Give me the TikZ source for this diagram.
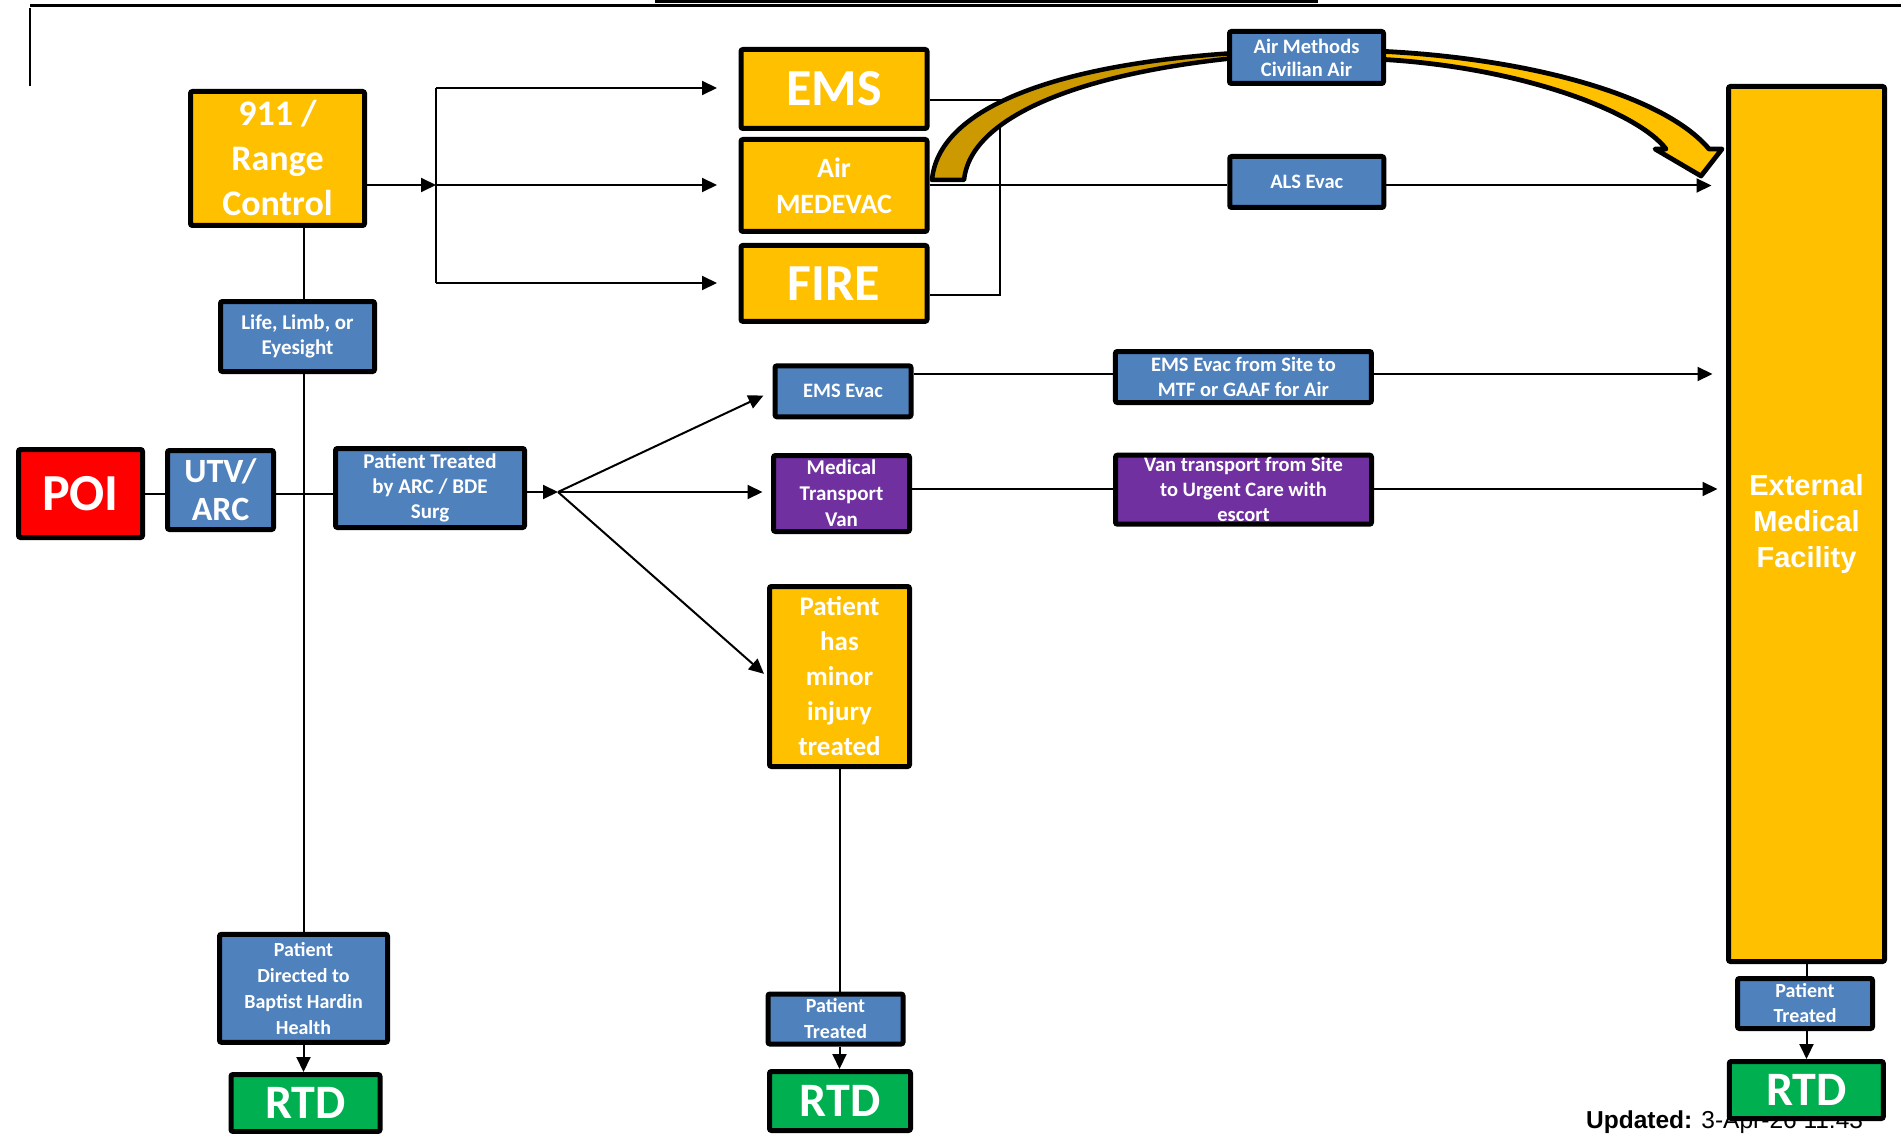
\documentclass[tikz,border=0pt]{standalone}
\usepackage{fontspec}
\setmainfont{Carlito}
\newfontfamily\libsans{Liberation Sans}
\usetikzlibrary{arrows.meta,calc}
\definecolor{yel}{HTML}{FFC000}
\definecolor{blu}{HTML}{4F81BD}
\definecolor{pur}{HTML}{7030A0}
\definecolor{redb}{HTML}{FF0000}
\definecolor{grn}{HTML}{00B050}
\definecolor{dgold}{HTML}{CC9A00}
\pgfdeclarelayer{bg}
\pgfsetlayers{bg,main}
\newcommand{\myfs}[2]{\fontsize{#1}{#2}\selectfont}
\begin{document}
\begin{tikzpicture}[x=1pt,y=-1pt,
  box/.style={draw=black,line width=5pt,rounded corners=2pt,text=white,align=center,inner sep=0pt},
  fs/.style 2 args={font=\bfseries\myfs{#1}{#2}},
  conn/.style={line width=2pt,draw=black},
  arr/.style={conn,-{Triangle[length=15pt,width=14pt]}}]
\useasboundingbox (0,0) rectangle (1901,1134);

% page decorations
\draw[line width=2.3pt] (30,5.5) -- (1901,5.5);
\fill (655,0) rectangle (1318,3);
\draw[line width=1.8pt] (30,8) -- (30,86);

% nodes
\node[box,fill=yel,minimum width=174pt,minimum height=134pt,fs={36}{45}] (n911) at (277.5,158.5) {911 /\\Range\\Control};
\node[box,fill=blu,minimum width=154pt,minimum height=70pt,fs={21}{25}] (life) at (297.5,336.5) {Life, Limb, or\\Eyesight};
\node[box,fill=redb,minimum width=124pt,minimum height=88pt,fs={52}{60}] (poi) at (80.5,493.5) {POI};
\node[box,fill=blu,minimum width=106pt,minimum height=79pt,fs={34}{38}] (utv) at (220.5,490) {UTV/\\ARC};
\node[box,fill=blu,minimum width=189pt,minimum height=79pt,fs={21}{25}] (pt) at (430,488) {Patient Treated\\by ARC / BDE\\Surg};
\node[box,fill=yel,minimum width=186pt,minimum height=79pt,fs={52}{60}] (ems) at (834,89) {EMS};
\node[box,fill=yel,minimum width=186pt,minimum height=92pt,fs={28}{36}] (medevac) at (834,185.5) {Air\\MEDEVAC};
\node[box,fill=yel,minimum width=186pt,minimum height=76pt,fs={52}{60}] (fire) at (834,283.4) {FIRE};
\node[box,fill=blu,minimum width=154pt,minimum height=52pt,fs={20.5}{23}] (airm) at (1306.5,57.5) {Air Methods\\Civilian Air};
\node[box,fill=blu,minimum width=154pt,minimum height=51pt,fs={20.5}{24}] (als) at (1306.75,182) {ALS Evac};
\node[box,fill=blu,minimum width=136pt,minimum height=51pt,fs={20.5}{24}] (emsevac) at (843,391.3) {EMS Evac};
\node[box,fill=pur,minimum width=136pt,minimum height=76pt,fs={21}{26}] (van) at (841.5,493.5) {Medical\\Transport\\Van};
\node[box,fill=yel,minimum width=140pt,minimum height=180pt,fs={27}{35}] (minor) at (839.5,676.5) {Patient\\has\\minor\\injury\\treated};
\node[box,fill=blu,minimum width=256pt,minimum height=51pt,fs={20.5}{25}] (emsfrom) at (1243.4,377) {EMS Evac from Site to\\MTF or GAAF for Air};
\node[box,fill=pur,minimum width=256pt,minimum height=69pt,fs={20.5}{25}] (vantr) at (1243.5,489.7) {Van transport from Site\\to Urgent Care with\\escort};
\node[box,fill=yel,minimum width=156pt,minimum height=875pt,font=\libsans\bfseries\myfs{29}{36}] (ext) at (1806.5,524) {External\\Medical\\Facility};
\node[box,fill=blu,minimum width=135pt,minimum height=50pt,fs={20}{25}] (ptr) at (1805,1003.5) {Patient\\Treated};
\node[anchor=base west,inner sep=0pt,text=black,font=\libsans\myfs{24.5}{28}] (upd) at (1586,1128) {\textbf{Updated:} 3-Apr-26 11:43};
\node[box,fill=grn,minimum width=154pt,minimum height=57pt,fs={48}{56}] (rtdr) at (1806.3,1090) {RTD};
\node[box,fill=blu,minimum width=168pt,minimum height=108pt,fs={20}{26}] (pd) at (303.5,988.3) {Patient\\Directed to\\Baptist Hardin\\Health};
\node[box,fill=grn,minimum width=149pt,minimum height=57pt,fs={48}{56}] (rtdl) at (305.5,1103) {RTD};
\node[box,fill=blu,minimum width=135pt,minimum height=50pt,fs={20}{26}] (ptm) at (835.5,1019) {Patient\\Treated};
\node[box,fill=grn,minimum width=141pt,minimum height=59pt,fs={48}{56}] (rtdm) at (840,1101) {RTD};

\begin{pgfonlayer}{bg}
% 911 bracket
\coordinate (bl) at (436,185);
\coordinate (blt) at (436,88);
\coordinate (blb) at (436,283);
\draw[arr] (n911.east |- bl) -- (bl);
\draw[conn] (blt) -- (blb);
\draw[arr,shorten >=21.5pt] (blt) -- (ems.west |- blt);
\draw[arr,shorten >=21.5pt] (bl) -- (medevac.west |- bl);
\draw[arr,shorten >=21.5pt] (blb) -- (fire.west |- blb);
% EMS/FIRE bracket
\coordinate (eb) at (1000,100);
\coordinate (ebb) at (1000,295);
\draw[conn] (ems.east |- eb) -- (eb) -- (ebb) -- (fire.east |- ebb);
% air
\draw[conn] (medevac.east) -- (als.west |- medevac.east);
\draw[arr,shorten >=14.5pt] (als.east |- medevac.east) -- (ext.west |- medevac.east);
% main vertical
\draw[conn] (n911.south -| pd.north) -- (pd.north);
\draw[arr] (pd.south) -- (pd.south |- rtdl.north);
% POI row
\coordinate (br) at (558,492);
\draw[conn] (poi.east) -- (utv.west |- poi.east);
\draw[conn] (utv.east |- poi.east) -- (pt.west |- poi.east);
\draw[arr] (pt.east |- br) -- (br);
\draw[arr,shorten >=10pt] (br) -- (emsevac.west);
\draw[arr,shorten >=8.5pt] (br) -- (van.west |- br);
\draw[arr,shorten >=4pt] (br) -- (minor.west);
% ground transport
\coordinate (ye) at (0,374);
\coordinate (yv) at (0,489);
\draw[conn] (emsevac.east |- ye) -- (emsfrom.west |- ye);
\draw[arr,shorten >=13.5pt] (emsfrom.east |- ye) -- (ext.west |- ye);
\draw[conn] (van.east |- yv) -- (vantr.west |- yv);
\draw[arr,shorten >=8.5pt] (vantr.east |- yv) -- (ext.west |- yv);
% minor
\draw[conn] (minor.south) -- (minor.south |- ptm.north);
\draw[arr] (minor.south |- ptm.south) -- (minor.south |- rtdm.north);
% external
\draw[conn] (ext.south) -- (ext.south |- ptr.north);
\draw[arr] (ext.south |- ptr.south) -- (ext.south |- rtdr.north);
% curved arrow
\draw[line width=4.5pt,fill=dgold,line join=round] (932,180) .. controls (938,110) and (1050,65) .. (1235,53) -- (1235,58) .. controls (1070,75) and (970,120) .. (964,180) -- cycle;
\draw[line width=4.8pt,fill=yel,line join=round] (1375,51) .. controls (1520,57) and (1662,93) .. (1709,149) -- (1722,149) -- (1701,176) -- (1655,149) -- (1666,149) .. controls (1638,112) and (1520,66) .. (1375,59) -- cycle;
\end{pgfonlayer}
\end{tikzpicture}
\end{document}
